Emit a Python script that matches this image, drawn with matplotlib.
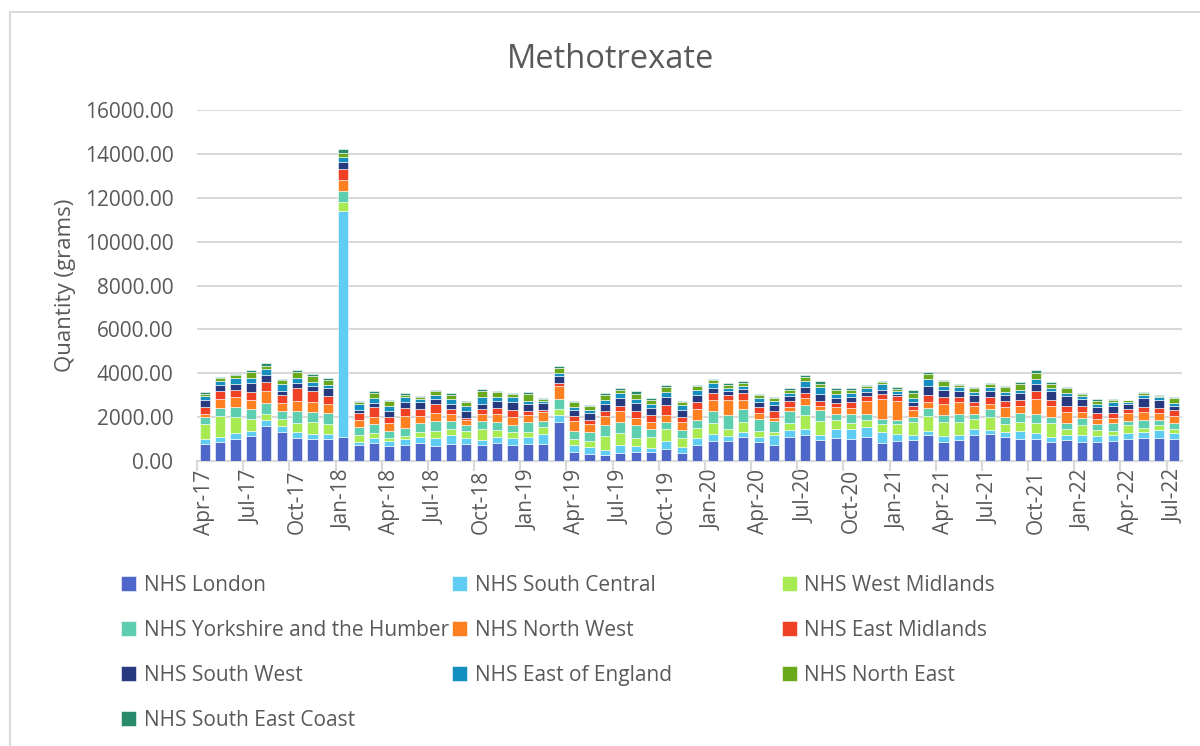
import numpy as np
import matplotlib.pyplot as plt
from matplotlib.patches import Rectangle

plt.rcParams["font.family"] = ["Open Sans", "DejaVu Sans"]

months = ["Apr-17", "May-17", "Jun-17", "Jul-17", "Aug-17", "Sep-17", "Oct-17", "Nov-17", "Dec-17",
          "Jan-18", "Feb-18", "Mar-18", "Apr-18", "May-18", "Jun-18", "Jul-18", "Aug-18", "Sep-18",
          "Oct-18", "Nov-18", "Dec-18", "Jan-19", "Feb-19", "Mar-19", "Apr-19", "May-19", "Jun-19",
          "Jul-19", "Aug-19", "Sep-19", "Oct-19", "Nov-19", "Dec-19", "Jan-20", "Feb-20", "Mar-20",
          "Apr-20", "May-20", "Jun-20", "Jul-20", "Aug-20", "Sep-20", "Oct-20", "Nov-20", "Dec-20",
          "Jan-21", "Feb-21", "Mar-21", "Apr-21", "May-21", "Jun-21", "Jul-21", "Aug-21", "Sep-21",
          "Oct-21", "Nov-21", "Dec-21", "Jan-22", "Feb-22", "Mar-22", "Apr-22", "May-22", "Jun-22",
          "Jul-22"]

# grams per month, one list per region (bottom of the stack first)
london = [780, 855, 1025, 1160, 1575, 1330, 1070, 995, 1025, 1105, 725, 835, 700, 750, 825, 700,
          765, 795, 720, 840, 750, 795, 780, 1785, 410, 305, 275, 380, 430, 410, 565, 380, 750,
          930, 930, 1115, 885, 735, 1100, 1190, 975, 1070, 1025, 1085, 840, 900, 945, 1205, 855,
          945, 1205, 1250, 1115, 1025, 1025, 855, 975, 885, 885, 930, 995, 1070, 1070, 1025]
south_central = [230, 260, 245, 215, 305, 245, 230, 230, 185, 10270, 150, 225, 230, 275, 290, 365,
                 410, 275, 245, 260, 290, 290, 445, 290, 320, 320, 245, 365, 260, 200, 335, 245,
                 320, 290, 230, 200, 230, 430, 335, 260, 230, 395, 430, 460, 475, 320, 245, 170,
                 290, 245, 260, 170, 185, 365, 230, 260, 230, 305, 275, 260, 260, 245, 335, 230]
west_midlands = [655, 915, 720, 535, 275, 350, 445, 535, 460, 410, 305, 210, 120, 135, 215, 305,
                 275, 305, 490, 335, 260, 245, 320, 290, 275, 290, 610, 535, 380, 490, 550, 430,
                 430, 520, 305, 445, 245, 170, 275, 640, 625, 395, 290, 335, 380, 445, 610, 685,
                 655, 595, 445, 595, 365, 395, 490, 595, 260, 460, 260, 170, 380, 200, 215, 215]
yorkshire = [350, 380, 475, 460, 490, 365, 535, 460, 535, 500, 380, 395, 335, 365, 410, 460,
             380, 260, 350, 365, 350, 460, 275, 460, 365, 410, 505, 520, 550, 380, 320, 350,
             380, 550, 640, 610, 565, 475, 550, 475, 475, 290, 395, 275, 215, 185, 215, 335,
             305, 365, 215, 350, 335, 395, 410, 290, 260, 320, 275, 350, 170, 335, 245, 275]
north_west = [140, 430, 430, 430, 565, 335, 475, 475, 395, 515, 320, 350, 350, 535, 320, 350,
              335, 245, 350, 350, 350, 320, 410, 580, 460, 365, 395, 475, 350, 305, 335, 350,
              505, 505, 670, 430, 275, 155, 215, 305, 215, 320, 275, 565, 930, 900, 290, 305,
              505, 520, 365, 215, 445, 305, 685, 490, 505, 260, 230, 260, 380, 395, 335, 290]
east_midlands = [305, 365, 350, 365, 395, 365, 550, 505, 380, 500, 305, 455, 290, 335, 305, 410,
                 215, 75, 230, 245, 305, 185, 105, 155, 200, 185, 260, 230, 320, 305, 445, 260,
                 305, 320, 230, 305, 245, 305, 275, 245, 230, 170, 275, 230, 215, 200, 185, 305,
                 320, 230, 200, 335, 305, 290, 335, 290, 260, 275, 275, 200, 170, 230, 215, 275]
south_west = [305, 245, 260, 380, 335, 185, 245, 215, 335, 350, 135, 195, 245, 275, 335, 215,
              200, 335, 215, 350, 365, 305, 305, 305, 275, 305, 290, 350, 335, 320, 365, 320,
              335, 230, 185, 185, 230, 260, 230, 245, 290, 215, 230, 200, 170, 105, 200, 395,
              320, 290, 320, 275, 245, 305, 350, 430, 460, 320, 260, 335, 260, 380, 365, 215]
east_of_england = [185, 215, 290, 245, 275, 320, 245, 200, 135, 195, 260, 210, 245, 230, 120, 200,
                   245, 230, 320, 170, 230, 155, 105, 155, 155, 135, 200, 230, 200, 170, 245, 230,
                   230, 215, 120, 120, 185, 185, 135, 305, 335, 185, 185, 200, 290, 120, 200, 335,
                   170, 185, 155, 185, 170, 170, 215, 120, 170, 135, 135, 170, 75, 155, 120, 120]
north_east = [105, 105, 120, 245, 135, 185, 260, 275, 230, 195, 105, 225, 215, 120, 90, 170,
              185, 155, 275, 215, 135, 320, 90, 200, 230, 170, 245, 155, 230, 185, 200, 105,
              155, 120, 170, 155, 155, 135, 135, 170, 155, 185, 135, 60, 90, 120, 230, 245,
              215, 105, 155, 135, 230, 275, 275, 200, 200, 90, 135, 105, 75, 75, 75, 215]
south_east_coast = [75, 75, 60, 105, 120, 60, 105, 90, 90, 180, 45, 90, 60, 60, 60, 60,
                    105, 75, 105, 75, 75, 75, 30, 90, 60, 75, 90, 75, 120, 90, 90, 60,
                    75, 60, 90, 75, 60, 45, 60, 90, 105, 105, 90, 45, 45, 60, 135, 90,
                    75, 45, 60, 45, 45, 60, 120, 75, 75, 60, 75, 60, 30, 45, 45, 60]

regions = ["NHS London", "NHS South Central", "NHS West Midlands",
           "NHS Yorkshire and the Humber", "NHS North West", "NHS East Midlands",
           "NHS South West", "NHS East of England", "NHS North East", "NHS South East Coast"]
series = [london, south_central, west_midlands, yorkshire, north_west, east_midlands,
          south_west, east_of_england, north_east, south_east_coast]
colors = ["#4E67C8", "#5ECCF3", "#A7EA52", "#5DCEAF", "#FF8021", "#F14124",
          "#27397F", "#158FBF", "#6BA91C", "#2A8A6C"]

grey = "#595959"
grid = "#D9D9D9"

fig = plt.figure(figsize=(12, 7.46), dpi=100)
ax = fig.add_axes([197 / 1200, 1 - 461 / 746, 985 / 1200, 351 / 746])

x = np.arange(len(months))
bottom = np.zeros(len(months))
bars = []
for name, vals, c in zip(regions, series, colors):
    vals = np.array(vals, dtype=float)
    b = ax.bar(x, vals, 0.66, bottom=bottom, color=c, edgecolor="white",
               linewidth=0.4, label=name, zorder=3)
    bars.append(b)
    bottom += vals

ax.set_xlim(-0.5, len(months) - 0.5)
ax.set_ylim(0, 16000)
ax.set_yticks(np.arange(0, 16001, 2000))
ax.set_yticklabels([f"{v:.2f}" for v in np.arange(0, 16001, 2000)])
ax.yaxis.grid(True, color=grid, linewidth=1.5, zorder=0)
ax.tick_params(axis="y", length=0, pad=17, labelsize=15, labelcolor=grey)

# labels every quarter, tick marks on the category boundaries
ax.set_xticks(x[::3])
ax.set_xticklabels(months[::3], rotation=90)
ax.tick_params(axis="x", which="major", length=0, pad=6, labelsize=15, labelcolor=grey)
ax.set_xticks(np.arange(-0.5, len(months), 3), minor=True)
ax.tick_params(axis="x", which="minor", length=7, width=1.5, color=grid)

for s in ["top", "right", "left"]:
    ax.spines[s].set_visible(False)
ax.spines["bottom"].set_color(grid)
ax.spines["bottom"].set_linewidth(1.5)

ax.set_ylabel("Quantity (grams)", fontsize=16, color=grey, labelpad=6)
fig.text(611 / 1200, 1 - 60 / 746, "Methotrexate", ha="center", va="center",
         fontsize=23.5, color=grey)

# legend laid out row by row in three fixed-width columns
col_x = [106, 437, 767]
for c in range(3):
    idx = list(range(c, len(regions), 3))
    fig.legend(handles=[bars[i] for i in idx], labels=[regions[i] for i in idx],
               loc="upper left", bbox_to_anchor=(col_x[c] / 1200, 1 - 560 / 746),
               frameon=False, fontsize=15, labelcolor=grey, handlelength=0.75,
               handleheight=0.75, handletextpad=0.35, labelspacing=1.16,
               borderpad=0.2)

# chart area frame
fig.patches.append(Rectangle((10 / 1200, -0.05), 1.2, 1 - 12 / 746 + 0.05,
                             transform=fig.transFigure, fill=False,
                             edgecolor=grid, linewidth=1.5))

fig.savefig("out.png", dpi=100)
